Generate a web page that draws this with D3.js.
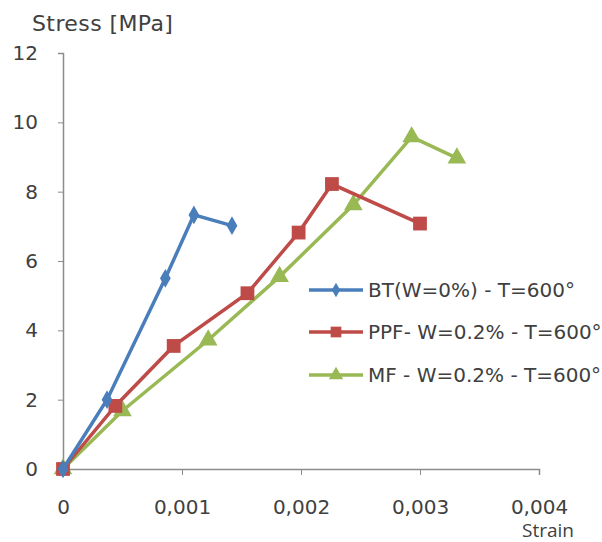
<!DOCTYPE html>
<html>
<head>
<meta charset="utf-8">
<style>
  body { margin: 0; background: #fff; }
  text { font-family: "DejaVu Sans", sans-serif; fill: #404040; }
</style>
<script src="https://d3js.org/d3.v7.min.js"></script>
</head>
<body>
<svg width="602" height="542"></svg>
<script>
// data
var btStrain  = [0, 0.00037, 0.00086, 0.0011, 0.00142];
var btStress  = [0, 2.0, 5.5, 7.33, 7.02];
var ppfStrain = [0, 0.00044, 0.00093, 0.00155, 0.00198, 0.00226, 0.003];
var ppfStress = [0, 1.82, 3.55, 5.07, 6.82, 8.22, 7.08];
var mfStrain  = [0, 0.0005, 0.00122, 0.00182, 0.00244, 0.00293, 0.00331];
var mfStress  = [0, 1.68, 3.72, 5.55, 7.62, 9.58, 8.97];
var seriesNames = ["BT(W=0%) - T=600°", "PPF- W=0.2% - T=600°", "MF - W=0.2% - T=600°"];
var xTicks = [0, 0.001, 0.002, 0.003, 0.004];
var yTicks = [0, 2, 4, 6, 8, 10, 12];

var colors = ["#4a7ebb", "#be4b48", "#98b954"];
var shapes = [d3.symbolDiamond, d3.symbolSquare, d3.symbolTriangle];
var sizes = [100, 190, 150];

var svg = d3.select("svg");
var x = d3.scaleLinear().domain([0, 0.004]).range([63, 539]);
var y = d3.scaleLinear().domain([0, 12]).range([469, 53]);

// y axis
var ya = svg.append("g").attr("transform", "translate(63,0)")
  .call(d3.axisLeft(y).tickValues(yTicks).tickSize(5).tickPadding(20));
ya.select(".domain").attr("stroke", "#8c8c8c").attr("stroke-width", 1.5);
ya.selectAll(".tick line").attr("stroke", "#8c8c8c");
ya.selectAll("text").style("font-size", "20px").style("font-family", "DejaVu Sans").attr("fill", "#404040");

// x axis
var xa = svg.append("g").attr("transform", "translate(0,469)")
  .call(d3.axisBottom(x).tickValues(xTicks).tickSize(6).tickPadding(25)
    .tickFormat(function(d){ return d === 0 ? "0" : d3.format(".3f")(d).replace(".", ","); }));
xa.select(".domain").attr("stroke", "#8c8c8c").attr("stroke-width", 1.5);
xa.selectAll(".tick line").attr("stroke", "#8c8c8c");
xa.selectAll("text").style("font-size", "20px").style("font-family", "DejaVu Sans").attr("fill", "#404040");

svg.append("text").attr("x", 32).attr("y", 31).style("font-size", "22px").style("letter-spacing", "0.4px").text("Stress [MPa]");
svg.append("text").attr("x", 548).attr("y", 537).attr("text-anchor", "middle")
  .style("font-family", "Open Sans").style("font-size", "19px").text("Strain");

var series = [
  {xs: btStrain, ys: btStress},
  {xs: ppfStrain, ys: ppfStress},
  {xs: mfStrain, ys: mfStress}
];

var line = d3.line().x(function(d){ return x(d[0]); }).y(function(d){ return y(d[1]); });

[2, 1, 0].forEach(function(i){
  var s = series[i];
  var pts = s.xs.map(function(v, k){ return [v, s.ys[k]]; });
  svg.append("path").datum(pts).attr("d", line)
    .attr("fill", "none").attr("stroke", colors[i]).attr("stroke-width", 3.5);
  svg.selectAll(".m" + i).data(pts).enter().append("path")
    .attr("transform", function(d){ return "translate(" + x(d[0]) + "," + y(d[1]) + ")"; })
    .attr("d", d3.symbol().type(shapes[i]).size(sizes[i]))
    .attr("fill", colors[i]);
});

// legend
var legendY = [290, 332, 375];
var lg = svg.append("g");
seriesNames.forEach(function(name, i){
  var ly = legendY[i];
  lg.append("line").attr("x1", 309).attr("x2", 363).attr("y1", ly).attr("y2", ly)
    .attr("stroke", colors[i]).attr("stroke-width", 3.5);
  lg.append("path").attr("transform", "translate(336," + ly + ")")
    .attr("d", d3.symbol().type(shapes[i]).size(sizes[i] * 0.6)).attr("fill", colors[i]);
  lg.append("text").attr("x", 368).attr("y", ly + 7).style("font-size", "20px").text(name);
});
</script>
</body>
</html>
